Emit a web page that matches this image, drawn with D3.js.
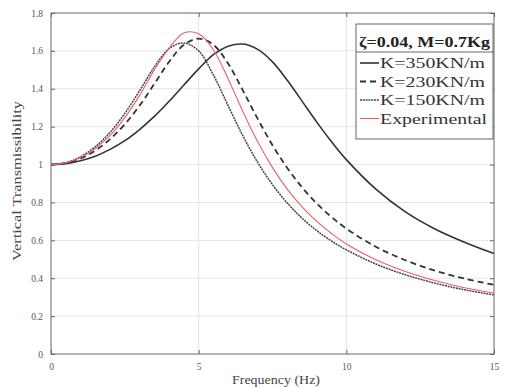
<!DOCTYPE html>
<html>
<head>
<meta charset="utf-8">
<script src="https://cdn.jsdelivr.net/npm/d3@7"></script>
<style>
  body { margin: 0; background: #fff; }
  text { font-family: "Liberation Serif", "Times New Roman", serif; }
</style>
</head>
<body>
<div id="chart"></div>
<script>
// frequency samples (Hz)
var freq = [0, 0.5, 1, 1.5, 2, 2.5, 3, 3.5, 4, 4.5, 5, 5.5, 6, 6.5, 7, 7.5, 8, 8.5, 9, 9.5, 10, 11, 12, 13, 14, 15];

var k350 = [1.00, 1.005, 1.02, 1.044, 1.08, 1.126, 1.185, 1.254, 1.334, 1.42, 1.505, 1.58, 1.625, 1.636, 1.608, 1.542, 1.445, 1.335, 1.224, 1.12, 1.026, 0.87, 0.75, 0.66, 0.59, 0.53];
var k230 = [1.00, 1.008, 1.032, 1.074, 1.134, 1.213, 1.311, 1.426, 1.543, 1.632, 1.665, 1.632, 1.532, 1.39, 1.241, 1.102, 0.982, 0.88, 0.794, 0.723, 0.662, 0.566, 0.495, 0.44, 0.398, 0.365];
var k150 = [1.00, 1.01, 1.041, 1.094, 1.17, 1.27, 1.39, 1.515, 1.612, 1.642, 1.60, 1.472, 1.31, 1.151, 1.011, 0.894, 0.797, 0.717, 0.651, 0.596, 0.55, 0.475, 0.418, 0.374, 0.339, 0.312];
var experimental = [1.00, 1.009, 1.037, 1.085, 1.154, 1.248, 1.365, 1.50, 1.615, 1.695, 1.69, 1.605, 1.452, 1.279, 1.12, 0.984, 0.87, 0.777, 0.70, 0.636, 0.581, 0.498, 0.436, 0.388, 0.35, 0.322];

var seriesNames = ["K=350KN/m", "K=230KN/m", "K=150KN/m", "Experimental"];
var xTicks = [0, 5, 10, 15];
var yTicks = [0, 0.2, 0.4, 0.6, 0.8, 1, 1.2, 1.4, 1.6, 1.8];

var W = 505, H = 387;
var margin = { left: 51, right: 11, top: 13, bottom: 33 };
var width = W - margin.left - margin.right;
var height = H - margin.top - margin.bottom;

var svg = d3.select("#chart").append("svg")
  .attr("width", W)
  .attr("height", H);

var g = svg.append("g")
  .attr("transform", "translate(" + margin.left + "," + margin.top + ")");

var x = d3.scaleLinear().domain([0, 15]).range([0, width]);
var y = d3.scaleLinear().domain([0, 1.8]).range([height, 0]);

// grid
g.append("g").selectAll("line").data(xTicks.slice(1, -1)).enter().append("line")
  .attr("x1", d => x(d)).attr("x2", d => x(d))
  .attr("y1", 0).attr("y2", height)
  .attr("stroke", "#e4e4e4").attr("stroke-width", 1);
g.append("g").selectAll("line").data(yTicks.slice(1, -1)).enter().append("line")
  .attr("x1", 0).attr("x2", width)
  .attr("y1", d => y(d)).attr("y2", d => y(d))
  .attr("stroke", "#e4e4e4").attr("stroke-width", 1);

// axes (ticks inward, like matlab)
function styleAxis(sel) {
  sel.select(".domain").remove();
  sel.selectAll(".tick line").attr("stroke", "#666");
  sel.selectAll(".tick text").attr("fill", "#555").style("font-size", "9.5px")
    .style("font-family", "'Liberation Serif', serif");
}
g.append("g")
  .attr("transform", "translate(0," + height + ")")
  .call(d3.axisBottom(x).tickValues(xTicks).tickFormat(d3.format("d")).tickSizeInner(-4).tickPadding(9))
  .call(styleAxis);
g.append("g")
  .call(d3.axisLeft(y).tickValues(yTicks).tickFormat(d => d === 1 || d === 0 ? String(d) : d.toFixed(1)).tickSizeInner(-4).tickPadding(8))
  .call(styleAxis);
g.append("g")
  .attr("transform", "translate(" + width + ",0)")
  .call(d3.axisRight(y).tickValues(yTicks).tickFormat("").tickSizeInner(-4))
  .call(styleAxis);
g.append("g")
  .call(d3.axisTop(x).tickValues(xTicks).tickFormat("").tickSizeInner(-4))
  .call(styleAxis);

// curves
var line = d3.line()
  .x(d => x(d[0]))
  .y(d => y(d[1]))
  .curve(d3.curveCatmullRom.alpha(0.5));

var series = [
  { name: seriesNames[0], vals: k350, color: "#333", width: 1.6, dash: null, len: 105 },
  { name: seriesNames[1], vals: k230, color: "#333", width: 1.8, dash: "6,4", len: 105 },
  { name: seriesNames[2], vals: k150, color: "#444", width: 1.5, dash: "2,0.8", len: 105 },
  { name: seriesNames[3], vals: experimental, color: "#e8606c", width: 1.1, dash: null, len: 107 }
];

series.forEach(function (s) {
  g.append("path")
    .datum(freq.map((f, i) => [f, s.vals[i]]))
    .attr("fill", "none")
    .attr("stroke", s.color)
    .attr("stroke-width", s.width)
    .attr("stroke-dasharray", s.dash)
    .attr("d", line);
});

// box
g.append("rect")
  .attr("width", width).attr("height", height)
  .attr("fill", "none").attr("stroke", "#666").attr("stroke-width", 1);

// axis labels
svg.append("text")
  .attr("x", 276).attr("y", 384)
  .attr("text-anchor", "middle")
  .attr("textLength", 88).attr("lengthAdjust", "spacingAndGlyphs")
  .attr("fill", "#444").style("font-size", "12px")
  .text("Frequency (Hz)");
svg.append("text")
  .attr("transform", "translate(21,181) rotate(-90)")
  .attr("text-anchor", "middle")
  .attr("textLength", 160).attr("lengthAdjust", "spacingAndGlyphs")
  .attr("fill", "#444").style("font-size", "12px")
  .text("Vertical Transmissibility");

// legend
var lg = svg.append("g").attr("transform", "translate(356,24)");
lg.append("rect")
  .attr("width", 137).attr("height", 115)
  .attr("fill", "#fff").attr("stroke", "#666").attr("stroke-width", 1);
lg.append("line")
  .attr("x1", 0).attr("x2", 137).attr("y1", 28).attr("y2", 28)
  .attr("stroke", "#666");
lg.append("text")
  .attr("x", 3).attr("y", 23)
  .attr("textLength", 131).attr("lengthAdjust", "spacingAndGlyphs")
  .attr("fill", "#222").style("font-size", "15px").style("font-weight", "bold")
  .text("ζ=0.04, M=0.7Kg");

series.forEach(function (s, i) {
  var yy = 39 + i * 18.5;
  lg.append("line")
    .attr("x1", 4).attr("x2", 23).attr("y1", yy).attr("y2", yy)
    .attr("stroke", s.color).attr("stroke-width", s.width)
    .attr("stroke-dasharray", s.dash);
  lg.append("text")
    .attr("x", 24).attr("y", yy + 5)
    .attr("textLength", s.len).attr("lengthAdjust", "spacingAndGlyphs")
    .attr("fill", "#333").style("font-size", "15px")
    .text(s.name);
});
</script>
</body>
</html>
